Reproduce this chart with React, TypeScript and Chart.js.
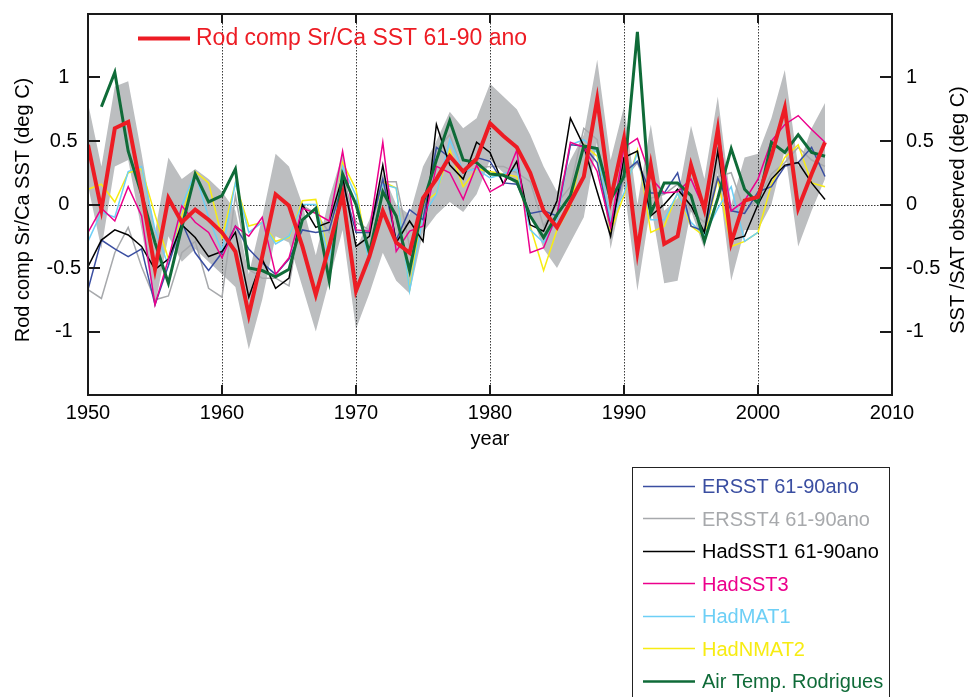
import React, { useEffect, useRef } from 'react';
import { Chart, registerables } from 'chart.js';

Chart.register(...registerables);

const FONT = "'Liberation Sans', Arial, Helvetica, sans-serif";

const years = [
  1950, 1951, 1952, 1953, 1954, 1955, 1956, 1957, 1958, 1959,
  1960, 1961, 1962, 1963, 1964, 1965, 1966, 1967, 1968, 1969,
  1970, 1971, 1972, 1973, 1974, 1975, 1976, 1977, 1978, 1979,
  1980, 1981, 1982, 1983, 1984, 1985, 1986, 1987, 1988, 1989,
  1990, 1991, 1992, 1993, 1994, 1995, 1996, 1997, 1998, 1999,
  2000, 2001, 2002, 2003, 2004, 2005,
];

const rodSrCa = [
  0.47, -0.04, 0.60, 0.65, 0.10, -0.51, 0.05, -0.14, -0.04, -0.12,
  -0.22, -0.37, -0.87, -0.41, 0.08, -0.01, -0.33, -0.71, -0.33, 0.08,
  -0.68, -0.41, -0.05, -0.30, -0.38, 0.05, 0.20, 0.38, 0.26, 0.36,
  0.64, 0.54, 0.45, 0.25, -0.05, -0.18, 0.02, 0.22, 0.83, 0.04,
  0.52, -0.37, 0.31, -0.31, -0.25, 0.31, -0.04, 0.59, -0.30, 0.03,
  0.06, 0.38, 0.76, -0.03, 0.24, 0.49,
];

const bandUpper = [
  0.80, 0.30, 0.93, 0.97, 0.40, -0.22, 0.37, 0.20, 0.28, 0.20,
  0.10, -0.05, -0.55, -0.10, 0.40, 0.30, 0.00, -0.40, 0.05, 0.40,
  -0.35, -0.12, 0.25, 0.00, -0.08, 0.30, 0.50, 0.73, 0.60, 0.68,
  0.95, 0.85, 0.75, 0.55, 0.30, 0.10, 0.35, 0.55, 1.14, 0.35,
  0.77, 0.00, 0.63, -0.05, 0.05, 0.62, 0.20, 0.85, 0.00, 0.37,
  0.40, 0.68, 1.06, 0.30, 0.60, 0.80,
];

const bandLower = [
  0.15, -0.35, 0.30, 0.35, -0.20, -0.80, -0.25, -0.45, -0.35, -0.45,
  -0.55, -0.65, -1.14, -0.75, -0.25, -0.30, -0.65, -1.00, -0.60, -0.20,
  -0.98, -0.70, -0.38, -0.60, -0.70, -0.22, -0.08, 0.02, -0.06, 0.08,
  0.35, 0.25, 0.15, -0.05, -0.35, -0.50, -0.30, -0.10, 0.50, -0.35,
  0.15, -0.68, 0.00, -0.62, -0.60, -0.05, -0.35, 0.25, -0.60, -0.20,
  -0.20, 0.00, 0.43, -0.33, -0.05, 0.20,
];

const ersst = [
  -0.67, -0.28, -0.35, -0.41, -0.35, -0.79, -0.48, -0.14, -0.38, -0.52,
  -0.38, -0.17, -0.35, -0.46, -0.55, -0.43, -0.20, -0.22, -0.20, 0.17,
  -0.22, -0.22, 0.20, -0.28, -0.04, -0.12, 0.45, 0.37, 0.25, 0.37,
  0.34, 0.17, 0.16, -0.07, -0.05, -0.09, 0.47, 0.46, 0.33, -0.17,
  0.25, 0.34, 0.09, 0.09, 0.25, -0.17, -0.21, 0.21, -0.05, -0.07,
  0.10, 0.14, 0.30, 0.33, 0.45, 0.22,
];

const ersst4 = [
  -0.67, -0.74, -0.38, -0.18, -0.49, -0.75, -0.72, -0.38, -0.29, -0.66,
  -0.73, 0.07, -0.51, -0.58, -0.58, -0.64, -0.01, -0.07, -0.22, 0.22,
  -0.14, -0.20, 0.18, 0.18, -0.33, -0.04, 0.43, 0.55, 0.25, 0.29,
  0.30, 0.30, 0.25, 0.18, -0.17, 0.01, 0.14, 0.60, 0.51, -0.20,
  0.20, 0.33, 0.05, 0.08, 0.16, -0.05, -0.14, 0.22, 0.25, -0.05,
  0.04, 0.24, 0.33, 0.45, 0.35, 0.30,
];

const hadsst1 = [
  -0.49, -0.28, -0.20, -0.24, -0.33, -0.51, -0.43, -0.16, -0.26, -0.41,
  -0.37, -0.22, -0.73, -0.43, -0.66, -0.58, 0.00, -0.18, -0.14, 0.22,
  -0.33, -0.25, 0.31, -0.30, -0.13, -0.29, 0.63, 0.31, 0.20, 0.49,
  0.41, 0.16, 0.34, -0.16, -0.21, 0.03, 0.68, 0.46, 0.10, -0.25,
  0.37, 0.42, -0.09, 0.00, 0.12, -0.01, -0.22, 0.42, -0.28, -0.25,
  0.00, 0.20, 0.31, 0.33, 0.17, 0.04,
];

const hadsst3 = [
  -0.22, -0.03, -0.13, 0.14, -0.09, -0.79, -0.43, -0.01, -0.14, -0.22,
  -0.42, -0.17, -0.25, -0.10, -0.55, -0.42, -0.03, -0.07, -0.13, 0.42,
  -0.20, -0.21, 0.49, -0.37, -0.21, -0.17, 0.30, 0.25, 0.04, 0.31,
  0.10, 0.16, 0.43, -0.38, -0.34, -0.08, 0.49, 0.45, 0.26, -0.18,
  0.45, 0.52, 0.21, 0.09, 0.10, 0.20, -0.04, 0.59, -0.05, 0.03,
  0.20, 0.50, 0.63, 0.70, 0.59, 0.49,
];

const hadmat1 = [
  -0.29, -0.06, -0.10, 0.26, 0.30, -0.20, -0.48, -0.01, 0.25, -0.10,
  -0.37, 0.17, -0.22, -0.14, -0.31, -0.25, 0.00, 0.00, -0.43, 0.30,
  0.07, -0.47, 0.16, 0.13, -0.68, -0.09, 0.08, 0.51, 0.26, 0.28,
  0.21, 0.24, 0.28, -0.20, -0.30, -0.12, 0.47, 0.51, 0.41, -0.12,
  0.09, 0.41, -0.12, -0.12, 0.09, -0.14, -0.24, -0.03, 0.14, -0.29,
  -0.22, null, null, null, null, null,
];

const hadnmat2 = [
  0.12, 0.16, 0.02, 0.25, 0.28, -0.08, -0.43, -0.09, 0.26, 0.17,
  -0.26, 0.17, -0.17, -0.14, -0.29, -0.26, 0.03, 0.04, -0.41, 0.33,
  0.12, -0.46, 0.18, 0.13, -0.67, 0.01, 0.09, 0.43, 0.14, 0.28,
  0.26, 0.24, 0.22, -0.17, -0.52, -0.20, -0.01, 0.47, 0.38, -0.21,
  0.07, 0.43, -0.22, -0.17, 0.09, -0.17, -0.25, 0.20, -0.33, -0.29,
  -0.22, 0.16, 0.37, 0.47, 0.17, 0.14,
];

const airTempRodrigues = [
  null, 0.77, 1.04, 0.42, 0.08, -0.30, -0.62, -0.18, 0.24, 0.02,
  0.07, 0.28, -0.50, -0.52, -0.57, -0.51, -0.12, -0.03, -0.60, 0.24,
  0.00, -0.38, 0.10, -0.09, -0.52, 0.01, 0.35, 0.66, 0.35, 0.33,
  0.24, 0.23, 0.18, -0.09, -0.26, -0.08, 0.07, 0.46, 0.44, 0.04,
  0.22, 1.36, -0.07, 0.17, 0.17, 0.07, -0.29, 0.05, 0.44, 0.12,
  0.01, 0.49, 0.41, 0.55, 0.41, 0.38,
];

const xTicks = [1950, 1960, 1970, 1980, 1990, 2000, 2010];
const xTickLabels = ['1950', '1960', '1970', '1980', '1990', '2000', '2010'];
const yTicks = [-1.5, -1, -0.5, 0, 0.5, 1, 1.5];
const yTickLabels = ['', '-1', '-0.5', '0', '0.5', '1', ''];

const titleRod = 'Rod comp Sr/Ca SST 61-90 ano';
const xTitle = 'year';
const yTitleLeft = 'Rod comp Sr/Ca SST (deg C)';
const yTitleRight = 'SST /SAT observed (deg C)';

const series = [
  { label: titleRod, values: rodSrCa, color: '#ed1c24', width: 4, order: 0 },
  { label: 'Air Temp. Rodrigues', values: airTempRodrigues, color: '#0f6b38', width: 3, order: 1 },
  { label: 'HadSST3', values: hadsst3, color: '#ec008c', width: 1.5, order: 2 },
  { label: 'HadSST1 61-90ano', values: hadsst1, color: '#000000', width: 1.5, order: 3 },
  { label: 'ERSST 61-90ano', values: ersst, color: '#3a4ea1', width: 1.5, order: 4 },
  { label: 'HadMAT1', values: hadmat1, color: '#6dcff6', width: 1.5, order: 5 },
  { label: 'HadNMAT2', values: hadnmat2, color: '#f7ec13', width: 1.5, order: 6 },
  { label: 'ERSST4 61-90ano', values: ersst4, color: '#a7a9ac', width: 1.5, order: 7 },
];

const legendOrder = [
  'ERSST 61-90ano',
  'ERSST4 61-90ano',
  'HadSST1 61-90ano',
  'HadSST3',
  'HadMAT1',
  'HadNMAT2',
  'Air Temp. Rodrigues',
];

const BAND_COLOR = '#bcbec0';

function toPoints(values: (number | null)[]) {
  return years.map((yr, i) => ({ x: yr, y: values[i] }));
}

const decor = {
  id: 'decor',
  afterDatasetDraw(chart: any, args: any) {
    const ds = chart.data.datasets[args.index];
    if (ds.label !== 'band-upper') return;
    const { ctx, chartArea: a, scales } = chart;
    ctx.save();
    ctx.strokeStyle = '#3a3a3a';
    ctx.lineWidth = 1;
    ctx.setLineDash([1.5, 1.5]);
    xTicks.forEach((v, i) => {
      if (i === 0 || i === xTicks.length - 1) return;
      const px = Math.round(scales.x.getPixelForValue(v)) + 0.5;
      ctx.beginPath();
      ctx.moveTo(px, a.top);
      ctx.lineTo(px, a.bottom);
      ctx.stroke();
    });
    const py = Math.round(scales.y.getPixelForValue(0)) + 0.5;
    ctx.beginPath();
    ctx.moveTo(a.left, py);
    ctx.lineTo(a.right, py);
    ctx.stroke();
    ctx.restore();
  },
  afterDraw(chart: any) {
    const { ctx, chartArea: a, scales } = chart;
    ctx.save();
    ctx.strokeStyle = '#1a1a1a';
    ctx.lineWidth = 2;
    ctx.strokeRect(a.left, a.top, a.right - a.left, a.bottom - a.top);
    xTicks.forEach((v, i) => {
      if (i === 0 || i === xTicks.length - 1) return;
      const px = Math.round(scales.x.getPixelForValue(v));
      ctx.beginPath();
      ctx.moveTo(px, a.bottom);
      ctx.lineTo(px, a.bottom - 10);
      ctx.moveTo(px, a.top);
      ctx.lineTo(px, a.top + 9);
      ctx.stroke();
    });
    yTicks.forEach((v, i) => {
      if (i === 0 || i === yTicks.length - 1) return;
      const py = Math.round(scales.y.getPixelForValue(v));
      ctx.beginPath();
      ctx.moveTo(a.left, py);
      ctx.lineTo(a.left + 12, py);
      ctx.moveTo(a.right, py);
      ctx.lineTo(a.right - 12, py);
      ctx.stroke();
    });

    const rod = series[0];
    ctx.strokeStyle = rod.color;
    ctx.lineWidth = 4;
    ctx.beginPath();
    ctx.moveTo(138, 38.5);
    ctx.lineTo(190, 38.5);
    ctx.stroke();
    ctx.fillStyle = rod.color;
    ctx.font = `23px ${FONT}`;
    ctx.textBaseline = 'alphabetic';
    ctx.textAlign = 'left';
    ctx.fillText(rod.label, 196, 45);

    ctx.fillStyle = '#000';
    ctx.font = `20px ${FONT}`;
    ctx.textAlign = 'center';
    ctx.fillText(xTitle, (a.left + a.right) / 2, 445);
    ctx.save();
    ctx.translate(29, 210);
    ctx.rotate(-Math.PI / 2);
    ctx.fillText(yTitleLeft, 0, 0);
    ctx.restore();
    ctx.save();
    ctx.translate(964, 210);
    ctx.rotate(-Math.PI / 2);
    ctx.fillText(yTitleRight, 0, 0);
    ctx.restore();

    ctx.strokeStyle = '#222';
    ctx.lineWidth = 1;
    ctx.strokeRect(632.5, 467.5, 257, 240);
    ctx.textAlign = 'left';
    ctx.font = `20px ${FONT}`;
    legendOrder.forEach((name, i) => {
      const s = series.find((q) => q.label === name)!;
      const ly = 486 + i * 32.45;
      ctx.strokeStyle = s.color;
      ctx.lineWidth = s.width >= 3 ? 2.5 : 1.5;
      ctx.beginPath();
      ctx.moveTo(643, Math.round(ly) + 0.5);
      ctx.lineTo(695, Math.round(ly) + 0.5);
      ctx.stroke();
      ctx.fillStyle = s.color;
      ctx.fillText(s.label, 702, ly + 7.3);
    });
    ctx.restore();
  },
};

export default function App() {
  const ref = useRef<HTMLCanvasElement | null>(null);

  useEffect(() => {
    if (!ref.current) return;
    const datasets: any[] = series.map((s) => ({
      label: s.label,
      data: toPoints(s.values),
      borderColor: s.color,
      backgroundColor: s.color,
      borderWidth: s.width,
      pointRadius: 0,
      fill: false,
      tension: 0,
      order: s.order,
      yAxisID: 'y',
      borderJoinStyle: 'miter',
    }));
    datasets.push({
      label: 'band-upper',
      data: toPoints(bandUpper),
      borderColor: 'rgba(0,0,0,0)',
      backgroundColor: BAND_COLOR,
      borderWidth: 0,
      pointRadius: 0,
      fill: '+1',
      tension: 0,
      order: 100,
      yAxisID: 'y',
    });
    datasets.push({
      label: 'band-lower',
      data: toPoints(bandLower),
      borderColor: 'rgba(0,0,0,0)',
      backgroundColor: BAND_COLOR,
      borderWidth: 0,
      pointRadius: 0,
      fill: false,
      tension: 0,
      order: 101,
      yAxisID: 'y',
    });

    const tickFont = { family: FONT, size: 20 };
    const yScale = (position: 'left' | 'right', width: number, padding: number, crossAlign: any) => ({
      type: 'linear',
      position,
      min: -1.5,
      max: 1.5,
      grid: { display: false, drawTicks: false },
      border: { display: false },
      afterBuildTicks: (s: any) => {
        s.ticks = yTicks.map((v) => ({ value: v }));
      },
      afterFit: (s: any) => {
        s.width = width;
        s.paddingTop = 0;
        s.paddingBottom = 0;
      },
      ticks: {
        autoSkip: false,
        padding,
        crossAlign,
        color: '#000',
        font: tickFont,
        callback: (v: any) => {
          const i = yTicks.findIndex((t) => Math.abs(t - Number(v)) < 1e-6);
          return i >= 0 ? yTickLabels[i] : '';
        },
      },
    });

    const chart = new Chart(ref.current, {
      type: 'line',
      data: { datasets },
      options: {
        responsive: false,
        animation: false,
        devicePixelRatio: 1,
        layout: { padding: { top: 14, left: 0, right: 0, bottom: 0 } },
        plugins: {
          legend: { display: false },
          tooltip: { enabled: false },
          title: { display: false },
        },
        elements: { point: { radius: 0 }, line: { tension: 0 } },
        scales: {
          x: {
            type: 'linear',
            min: 1950,
            max: 2010,
            grid: { display: false, drawTicks: false },
            border: { display: false },
            afterBuildTicks: (s: any) => {
              s.ticks = xTicks.map((v) => ({ value: v }));
            },
            afterFit: (s: any) => {
              s.height = 302;
            },
            ticks: {
              autoSkip: false,
              maxRotation: 0,
              padding: 6,
              color: '#000',
              font: tickFont,
              callback: (v: any) => {
                const i = xTicks.indexOf(Number(v));
                return i >= 0 ? xTickLabels[i] : '';
              },
            },
          },
          y: yScale('left', 88, 7, 'center'),
          y2: yScale('right', 77, 14, 'near'),
        },
      } as any,
      plugins: [decor],
    } as any);

    return () => chart.destroy();
  }, []);

  return (
    <div style={{ position: 'absolute', left: 0, top: 0, width: 969, height: 697 }}>
      <canvas ref={ref} width={969} height={697} style={{ display: 'block' }} />
    </div>
  );
}
